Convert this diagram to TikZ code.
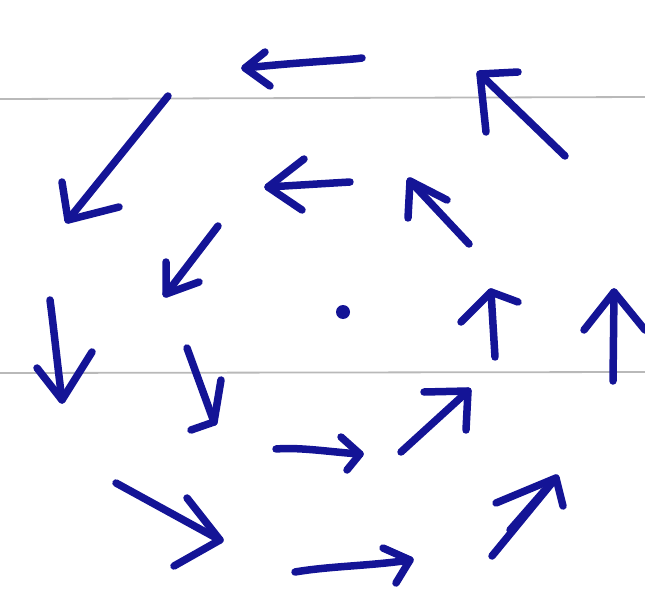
\documentclass[tikz,border=0pt]{standalone}
\definecolor{ink}{RGB}{20,20,150}
\tikzset{pen/.style={draw=ink,line width=7.5pt,line cap=round,line join=round},
rule/.style={draw=gray!55,line width=1.8pt}}
\newcommand{\harr}[4]{\draw[pen] #1 -- #2; \draw[pen] #3 -- #2 -- #4;}
\begin{document}
\begin{tikzpicture}[x=1pt,y=-1pt]
\useasboundingbox (0,0) rectangle (645,596);
\draw[rule] (0,99) -- (645,97);
\draw[rule] (0,373) -- (645,372);
% top row
\draw[pen] (362,58) .. controls (350,60) and (300,62) .. (245,68);
\draw[pen] (265,52) -- (245,68) -- (270,86);
\harr{(565,156)}{(480,74)}{(518,72)}{(486,132)}
\harr{(168,96)}{(68,220)}{(62,182)}{(119,207)}
% middle ring
\harr{(350,182)}{(268,187)}{(304,159)}{(302,210)}
\harr{(469,244)}{(410,181)}{(408,218)}{(447,200)}
\harr{(218,226)}{(166,294)}{(166,262)}{(199,282)}
\fill[ink] (343,312) circle (7pt);
\draw[pen] (50,300) .. controls (54,330) and (58,370) .. (62,400);
\draw[pen] (37,368) -- (62,400) -- (92,352);
\harr{(495,357)}{(491,292)}{(461,322)}{(518,302)}
\draw[pen] (613,381) -- (614,292);
\draw[pen] (584,330) -- (614,292) -- (645,330);
\harr{(187,348)}{(214,422)}{(191,430)}{(221,380)}
\draw[pen] (276,449) .. controls (300,447) and (330,452) .. (360,454);
\draw[pen] (341,437) -- (360,454) -- (347,470);
\harr{(401,452)}{(468,391)}{(424,392)}{(466,430)}
% outer bottom
\harr{(116,483)}{(220,540)}{(187,498)}{(174,566)}
\draw[pen] (295,572) .. controls (330,566) and (370,566) .. (410,560);
\draw[pen] (383,548) -- (410,560) -- (396,583);
\harr{(492,556)}{(556,478)}{(496,503)}{(563,506)}
\draw[pen] (510,530) -- (545,490);
\end{tikzpicture}
\end{document}
